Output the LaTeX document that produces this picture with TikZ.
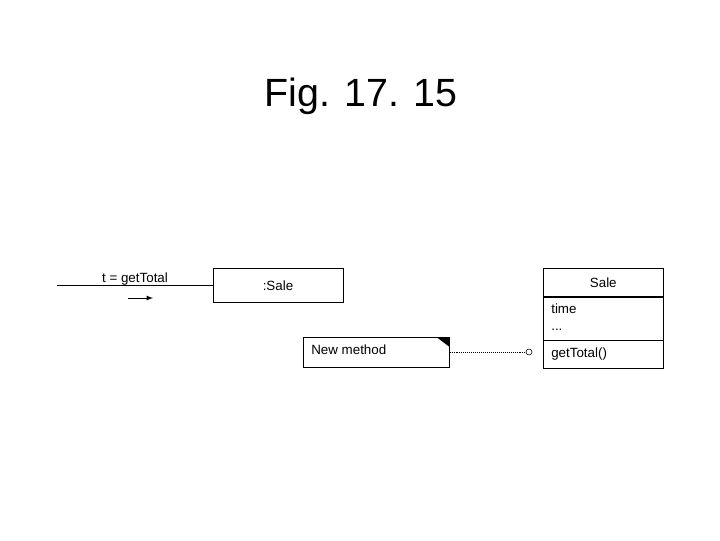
\documentclass[tikz,border=0pt]{standalone}
\usepackage{fontspec}
\setmainfont{Liberation Sans}
\usepackage{tikz}
\usetikzlibrary{arrows}
\tikzstyle{box} = [draw, line width=0.4pt, inner sep=0pt, font=\fontsize{9.5}{11}\selectfont]
\tikzstyle{label} = [inner sep=0pt, font=\fontsize{9.5}{11}\selectfont]
\tikzstyle{arrow} = [thin,-latex]

\begin{document}
\begin{tikzpicture}[x=0.025cm, y=-0.025cm]
    \useasboundingbox (0,0) rectangle (720,540);
    \node (title) at (361,96) {\fontsize{28}{33}\selectfont Fig. 17. 15};

    % Interaction diagram
    \node (obj) [box, minimum width=3.25cm, minimum height=0.85cm] at (278,285.5) {:Sale};
    \coordinate (start) at (57,285.5);
    \draw (start) -- (obj.west);
    \node (msg) [label, anchor=base] at (135,282) {t = getTotal};
    \coordinate (msgfrom) at (128,298);
    \coordinate (msgto) at (153,298);
    \draw[arrow, line width=0.6pt] (msgfrom) -- (msgto);

    % Note
    \node (note) [box, minimum width=3.65cm, minimum height=0.75cm, anchor=north west] at (303,337) {};
    \node (notetext) [label, anchor=base west] at (311,354) {New method};
    \fill ([xshift=-0.33cm]note.north east) -- (note.north east) -- ([yshift=-0.25cm]note.north east) -- cycle;

    % Class
    \node (cname) [box, minimum width=3cm, minimum height=0.7cm, anchor=north west] at (543,268) {Sale};
    \node (cattr) [box, minimum width=3cm, minimum height=1.075cm, anchor=north] at (cname.south) {};
    \node (attr1) [label, anchor=base west] at (551,313) {time};
    \node (attr2) [label, anchor=base west] at (551,330) {...};
    \node (cops) [box, minimum width=3cm, minimum height=0.7cm, anchor=north] at (cattr.south) {};
    \node (op1) [label, anchor=base west] at (551,357) {getTotal()};

    % Link
    \node (knob) [draw, circle, inner sep=0pt, minimum size=0.15cm] at (529,352) {};
    \draw[densely dotted, thin] (note.east |- knob) -- (knob);
\end{tikzpicture}
\end{document}
